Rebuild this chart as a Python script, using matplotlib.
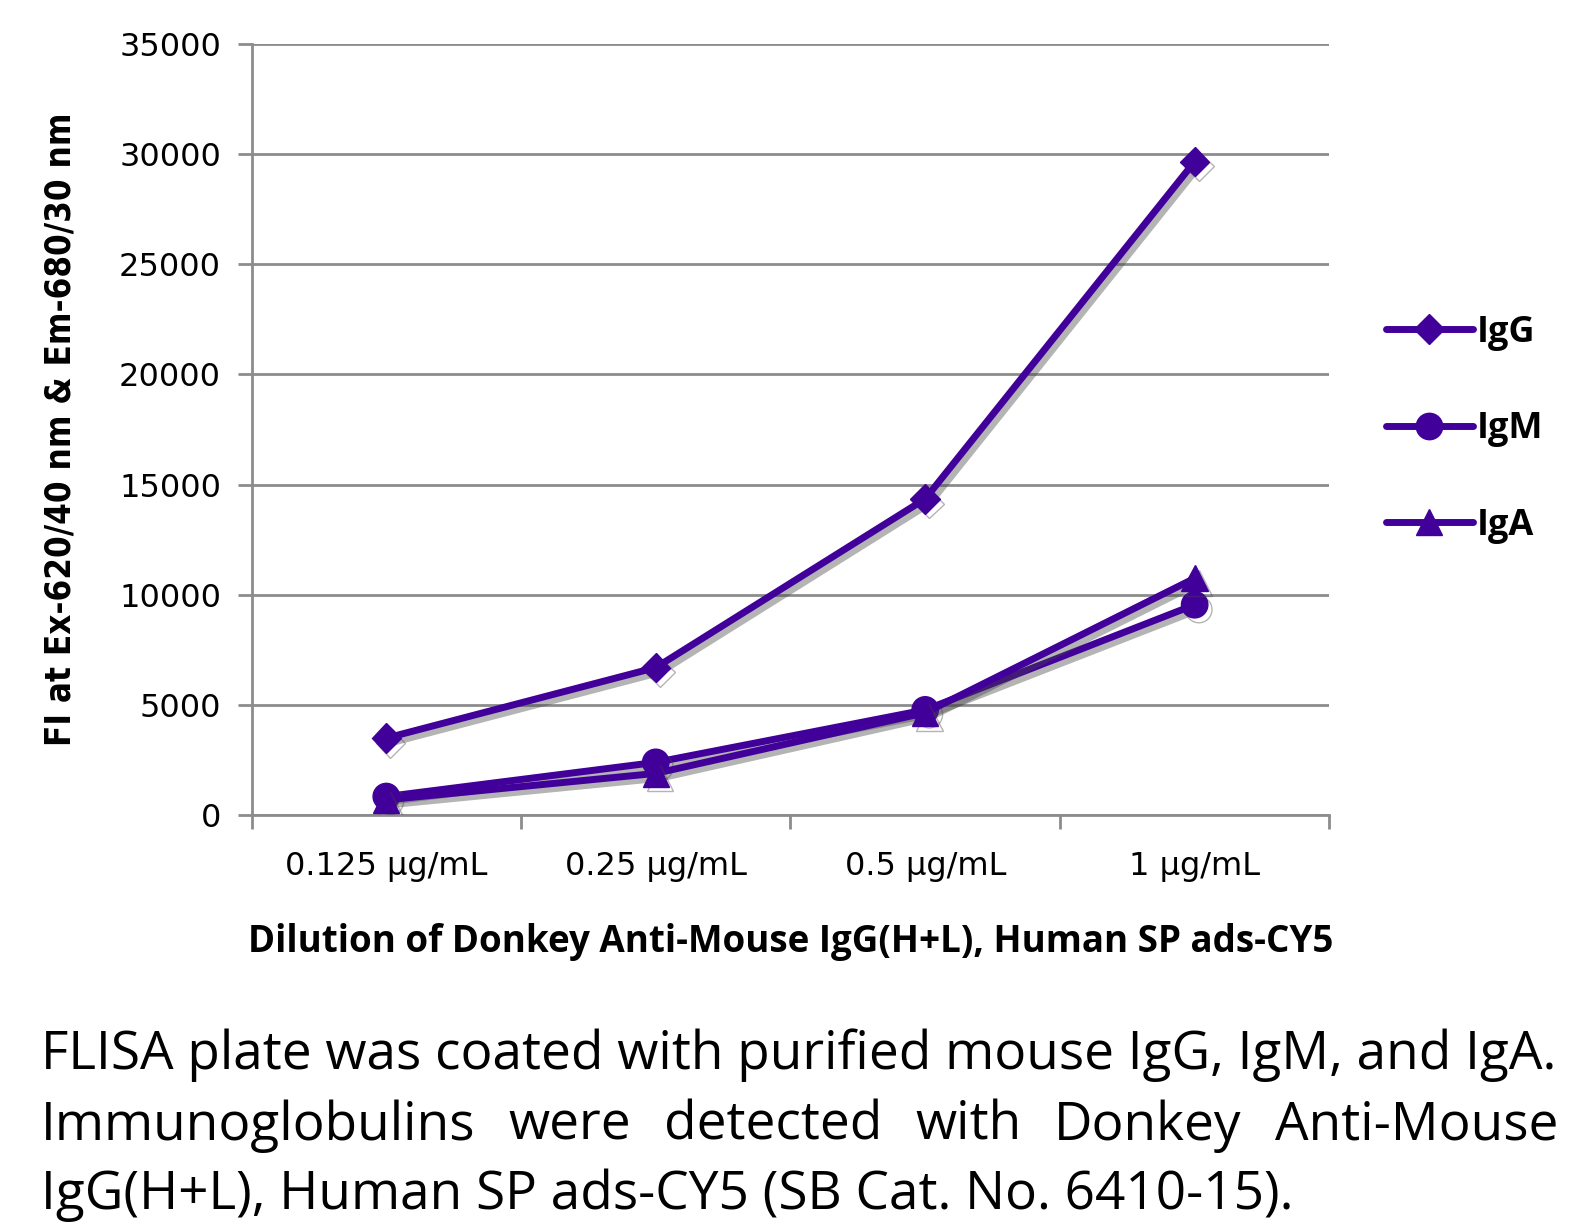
import matplotlib
matplotlib.use("Agg")
import matplotlib.pyplot as plt
import matplotlib.patheffects as pe

# data
categories = ["0.125 µg/mL", "0.25 µg/mL", "0.5 µg/mL", "1 µg/mL"]
igg = [3500, 6700, 14350, 29650]
igm = [850, 2400, 4780, 9550]
iga = [700, 1900, 4650, 10750]
series_names = ["IgG", "IgM", "IgA"]
y_ticks = [0, 5000, 10000, 15000, 20000, 25000, 30000, 35000]

caption_lines = [
    "FLISA plate was coated with purified mouse IgG, IgM, and IgA.",
    "Immunoglobulins were detected with Donkey Anti-Mouse",
    "IgG(H+L), Human SP ads-CY5 (SB Cat. No. 6410-15).",
]

PURPLE = "#42009A"
GRID = "#8C8C8C"
REG = ["Open Sans", "DejaVu Sans"]
TICKF = ["DejaVu Sans"]

fig = plt.figure(figsize=(15.9, 12.31), dpi=100)
fig.patch.set_facecolor("white")
ax = fig.add_axes([0.1582, 0.3377, 0.6779, 0.6269])

x = list(range(len(categories)))
shadow = [pe.SimpleLineShadow(offset=(3, -3.5), shadow_color="#444444", alpha=0.4),
          pe.Normal()]
markers = ["D", "o", "^"]
msizes = [15, 19, 19]
for vals, name, m, ms in zip([igg, igm, iga], series_names, markers, msizes):
    ax.plot(x, vals, color=PURPLE, lw=5, marker=m, markersize=ms,
            solid_joinstyle="round", solid_capstyle="round",
            label=name, path_effects=shadow, zorder=3)

ax.set_xlim(-0.5, len(categories) - 0.5)
ax.set_ylim(0, 35000)
ax.set_yticks(y_ticks)
ax.set_yticklabels([str(v) for v in y_ticks], family=TICKF, fontsize=23)
ax.set_xticks(x)
ax.set_xticklabels(categories, family=TICKF, fontsize=23)
ax.set_xticks([i - 0.5 for i in range(len(categories) + 1)], minor=True)
ax.tick_params(axis="x", which="major", length=0, pad=26)
ax.tick_params(axis="x", which="minor", length=10, width=2, color=GRID)
ax.tick_params(axis="y", length=10, width=2, color=GRID, pad=12)
ax.yaxis.grid(True, color=GRID, lw=2)
ax.set_axisbelow(True)
for s in ["top", "right"]:
    ax.spines[s].set_visible(False)
ax.spines["left"].set_color(GRID)
ax.spines["left"].set_linewidth(2)
ax.spines["bottom"].set_color(GRID)
ax.spines["bottom"].set_linewidth(2)

ax.set_ylabel("FI at Ex-620/40 nm & Em-680/30 nm", family="DejaVu Sans",
              fontstretch="condensed", fontweight="bold", fontsize=25, labelpad=30)
ax.set_xlabel("Dilution of Donkey Anti-Mouse IgG(H+L), Human SP ads-CY5",
              family=REG, fontweight="bold", fontsize=26.5, labelpad=29)

leg = ax.legend(loc="center left", bbox_to_anchor=(1.0525, 0.5), frameon=False,
                borderaxespad=0, borderpad=0,
                handlelength=2.4, handletextpad=0.1, labelspacing=1.67,
                prop={"family": REG, "weight": "bold", "size": 26})
for h in leg.legend_handles:
    h.set_path_effects([])

# caption, second line justified
fig.canvas.draw()
renderer = fig.canvas.get_renderer()
left_px, right_px = 41, 1558
line_y = [1055, 1126, 1195]
fs = 34
t = fig.text(0, 0, caption_lines[0], family=REG, fontsize=fs)
w = t.get_window_extent(renderer).width
fs = fs * (right_px - left_px) / w
t.remove()

H = 1231.0
for i, line in enumerate(caption_lines):
    yy = 1 - line_y[i] / H
    if i != 1:
        fig.text(left_px / 1590, yy, line, family=REG, fontsize=fs, va="center")
        continue
    words = line.split()
    widths = []
    for wd in words:
        tt = fig.text(0, 0, wd, family=REG, fontsize=fs)
        widths.append(tt.get_window_extent(renderer).width)
        tt.remove()
    gap = (right_px - left_px - sum(widths)) / (len(words) - 1)
    pos = left_px
    for wd, wdt in zip(words, widths):
        fig.text(pos / 1590, yy, wd, family=REG, fontsize=fs, va="center")
        pos += wdt + gap

fig.savefig("out.png", dpi=100, facecolor="white")
